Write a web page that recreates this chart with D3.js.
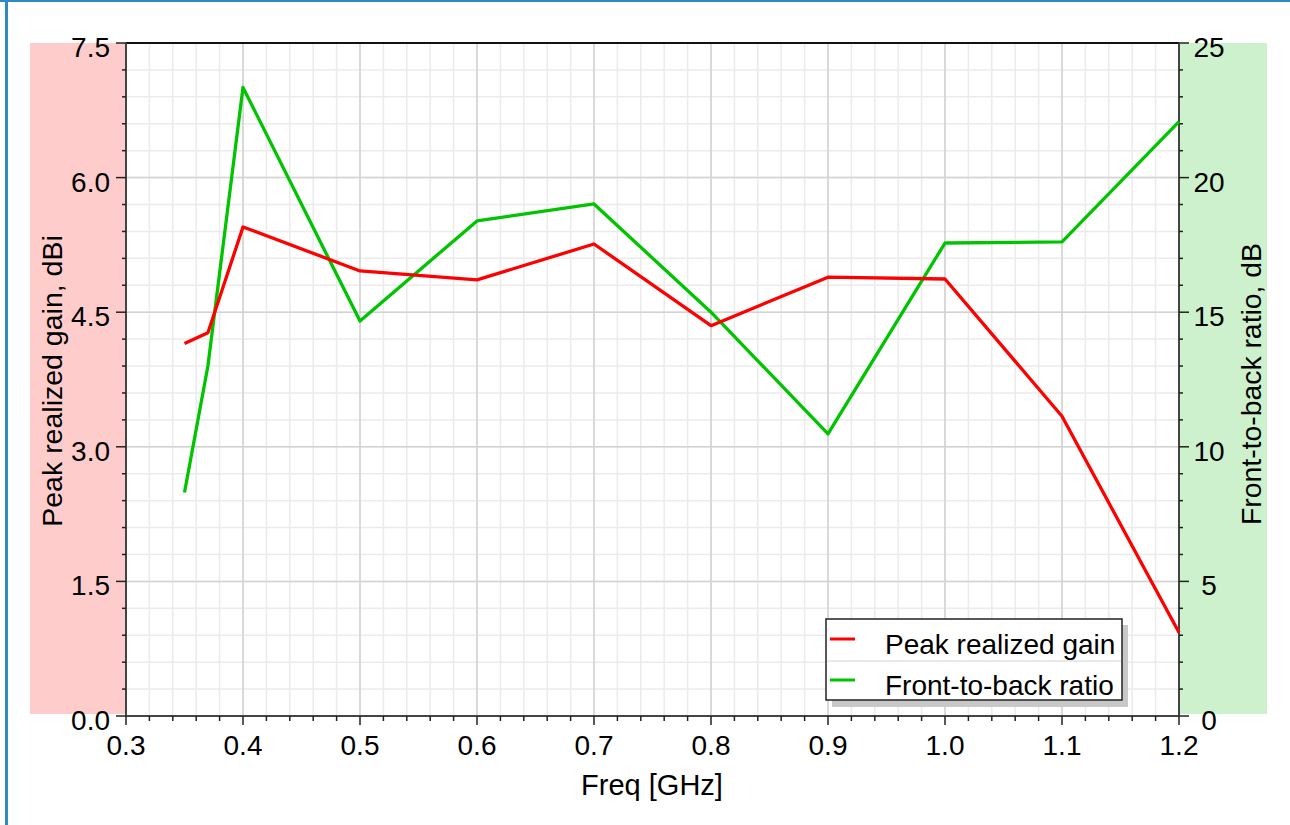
<!DOCTYPE html>
<html>
<head>
<meta charset="utf-8">
<script src="https://cdn.jsdelivr.net/npm/d3@7"></script>
<style>
  html, body { margin: 0; padding: 0; background: #fff; }
  svg { display: block; font-family: "Liberation Sans", Arial, sans-serif; }
</style>
</head>
<body>
<svg id="chart" width="1290" height="825"></svg>
<script>
const freqs = [0.35, 0.37, 0.4, 0.5, 0.6, 0.7, 0.8, 0.9, 1.0, 1.1, 1.2];
const gain  = [4.15, 4.27, 5.45, 4.96, 4.86, 5.26, 4.35, 4.89, 4.87, 3.34, 0.93];
const ftb   = [8.3, 13.0, 23.35, 14.67, 18.39, 19.02, 15.0, 10.48, 17.57, 17.61, 22.08];
const xTicks = [0.3, 0.4, 0.5, 0.6, 0.7, 0.8, 0.9, 1.0, 1.1, 1.2];
const yLeftTicks = [0, 1.5, 3.0, 4.5, 6.0, 7.5];
const yRightTicks = [0, 5, 10, 15, 20, 25];
const seriesNames = ["Peak realized gain", "Front-to-back ratio"];
const seriesColors = ["#ff0000", "#00c400"];

const svg = d3.select("#chart");
const L = 126, R = 1179, T = 43, B = 716;

const x = d3.scaleLinear().domain([0.3, 1.2]).range([L, R]);
const yL = d3.scaleLinear().domain([0, 7.5]).range([B, T]);
const yR = d3.scaleLinear().domain([0, 25]).range([B, T]);

// page border
svg.append("rect").attr("x", 0).attr("y", 0).attr("width", 1290).attr("height", 2).attr("fill", "#2f8ac0");
svg.append("rect").attr("x", 5).attr("y", 0).attr("width", 3).attr("height", 825).attr("fill", "#2f8ac0");

// colored side bands
svg.append("rect").attr("x", 30).attr("y", T).attr("width", L - 30).attr("height", B - T - 2).attr("fill", "#ffcccc");
svg.append("rect").attr("x", R).attr("y", T).attr("width", 1267 - R).attr("height", B - T - 2).attr("fill", "#ccf1cc");

// grid
const g = svg.append("g");
const xMinor = d3.range(0.3, 1.2001, 0.02);
const yMinor = d3.range(0, 7.5001, 0.3);
g.selectAll(".vmin").data(xMinor).join("line")
  .attr("x1", d => x(d)).attr("x2", d => x(d)).attr("y1", T).attr("y2", B)
  .attr("stroke", "#ebebeb").attr("stroke-width", 1.5);
g.selectAll(".hmin").data(yMinor).join("line")
  .attr("y1", d => yL(d)).attr("y2", d => yL(d)).attr("x1", L).attr("x2", R)
  .attr("stroke", "#ebebeb").attr("stroke-width", 1.5);
g.selectAll(".vmaj").data(xTicks).join("line")
  .attr("x1", d => x(d)).attr("x2", d => x(d)).attr("y1", T).attr("y2", B)
  .attr("stroke", "#d2d2d2").attr("stroke-width", 1.5);
g.selectAll(".hmaj").data(yLeftTicks).join("line")
  .attr("y1", d => yL(d)).attr("y2", d => yL(d)).attr("x1", L).attr("x2", R)
  .attr("stroke", "#d2d2d2").attr("stroke-width", 1.5);

// frame
svg.append("line").attr("x1", L).attr("x2", R).attr("y1", T).attr("y2", T).attr("stroke", "#111").attr("stroke-width", 2);
svg.append("line").attr("x1", L).attr("x2", R).attr("y1", B).attr("y2", B).attr("stroke", "#444").attr("stroke-width", 2);
svg.append("line").attr("x1", L).attr("x2", L).attr("y1", T).attr("y2", B).attr("stroke", "#444").attr("stroke-width", 2);
svg.append("line").attr("x1", R).attr("x2", R).attr("y1", T).attr("y2", B).attr("stroke", "#444").attr("stroke-width", 2);

// ticks
const tickCol = "#222";
svg.selectAll(".xt").data(xMinor).join("line")
  .attr("x1", d => x(d)).attr("x2", d => x(d)).attr("y1", B).attr("y2", d => xTicks.some(t => Math.abs(t - d) < 1e-6) ? B + 9 : B + 5)
  .attr("stroke", tickCol).attr("stroke-width", 1.5);
svg.selectAll(".ylt").data(yMinor).join("line")
  .attr("y1", d => yL(d)).attr("y2", d => yL(d)).attr("x1", L).attr("x2", d => yLeftTicks.some(t => Math.abs(t - d) < 1e-6) ? L - 10 : L - 4)
  .attr("stroke", tickCol).attr("stroke-width", 1.5);
svg.selectAll(".yrt").data(d3.range(0, 25.001, 1)).join("line")
  .attr("y1", d => yR(d)).attr("y2", d => yR(d)).attr("x1", R).attr("x2", d => d % 5 === 0 ? R + 10 : R + 4)
  .attr("stroke", tickCol).attr("stroke-width", 1.5);

// tick labels
const fs = 28;
svg.selectAll(".xl").data(xTicks).join("text")
  .attr("x", d => x(d)).attr("y", 755).attr("text-anchor", "middle")
  .attr("font-size", fs).attr("fill", "#000").text(d => d.toFixed(1));
svg.selectAll(".yll").data(yLeftTicks).join("text")
  .attr("x", 110).attr("y", d => yL(d) + 14).attr("text-anchor", "end")
  .attr("font-size", fs).attr("fill", "#000").text(d => d.toFixed(1));
svg.selectAll(".yrl").data(yRightTicks).join("text")
  .attr("x", 1209).attr("y", d => yR(d) + 14).attr("text-anchor", "middle")
  .attr("font-size", fs).attr("fill", "#000").text(d => d);

// axis titles
svg.append("text").attr("x", 652).attr("y", 795).attr("text-anchor", "middle")
  .attr("font-size", 29).text("Freq [GHz]");
svg.append("text").attr("transform", "translate(62,381) rotate(-90)").attr("text-anchor", "middle")
  .attr("font-size", 28.5).text("Peak realized gain, dBi");
svg.append("text").attr("transform", "translate(1261,384) rotate(-90)").attr("text-anchor", "middle")
  .attr("font-size", 28).attr("textLength", 282).attr("lengthAdjust", "spacingAndGlyphs").text("Front-to-back ratio, dB");

// series lines
const plot = svg.append("g");
const lineL = d3.line().x((d, i) => x(freqs[i])).y(d => yL(d));
const lineR = d3.line().x((d, i) => x(freqs[i])).y(d => yR(d));
plot.append("path").datum(ftb).attr("d", lineR).attr("fill", "none")
  .attr("stroke", seriesColors[1]).attr("stroke-width", 3.3).attr("stroke-linejoin", "round");
plot.append("path").datum(gain).attr("d", lineL).attr("fill", "none")
  .attr("stroke", seriesColors[0]).attr("stroke-width", 3.3).attr("stroke-linejoin", "round");

// legend
const lg = svg.append("g");
lg.append("rect").attr("x", 832).attr("y", 625).attr("width", 296).attr("height", 82).attr("fill", "#c8c8c8");
lg.append("rect").attr("x", 826).attr("y", 619).attr("width", 296).attr("height", 81)
  .attr("fill", "#fff").attr("stroke", "#222").attr("stroke-width", 1.5);
lg.append("line").attr("x1", 827).attr("x2", 1121).attr("y1", 661).attr("y2", 661).attr("stroke", "#e2e2e2").attr("stroke-width", 1.5);
seriesNames.forEach((n, i) => {
  const yy = 639 + i * 41;
  lg.append("line").attr("x1", 830).attr("x2", 855).attr("y1", yy).attr("y2", yy)
    .attr("stroke", seriesColors[i]).attr("stroke-width", 3);
  lg.append("text").attr("x", 885).attr("y", 654 + i * 41).attr("font-size", fs).attr("fill", "#000").text(n);
});
</script>
</body>
</html>
